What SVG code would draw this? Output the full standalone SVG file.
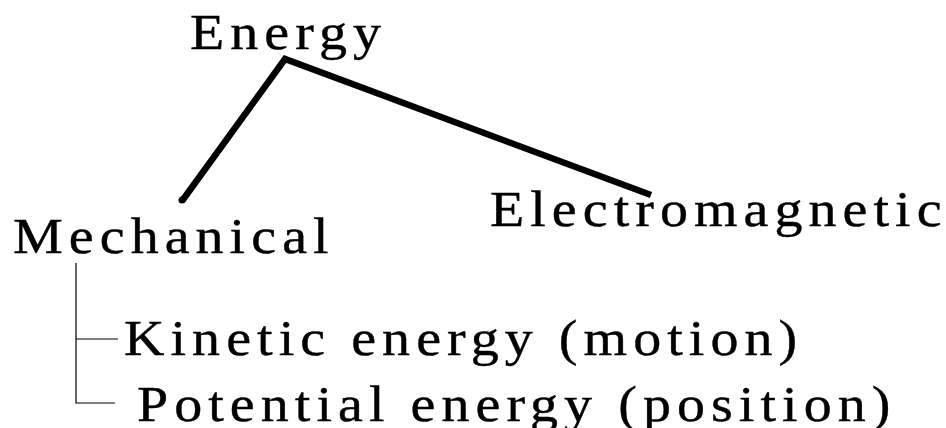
<svg xmlns="http://www.w3.org/2000/svg" width="946" height="428" viewBox="0 0 946 428">
<style>
.t{font-family:"Liberation Serif","Times New Roman",serif;font-size:50px;fill:#000;stroke:#000;stroke-width:0.4;letter-spacing:5.4px}
.thick{fill:none;stroke:#000;stroke-width:6.5;stroke-linejoin:miter}
.thin{fill:none;stroke:#000;stroke-width:1.2}
</style>
<rect width="946" height="428" fill="#fff"/>
<g id="connectors">
<polyline class="thick" points="182,201 285,59 651,195"/>
<circle cx="182" cy="200" r="3.5" fill="#000"/>
<polyline class="thin" points="76,263 76,403 115,403"/>
<line class="thin" x1="76" y1="339" x2="118" y2="339"/>
</g>
<g id="energy"><text class="t" transform="translate(190,49) scale(1.12,1)">Energy</text></g>
<g id="mechanical"><text class="t" transform="translate(13,253) scale(1.12,1)">Mechanical</text></g>
<g id="electromagnetic"><text class="t" transform="translate(490,226) scale(1.12,1)">Electromagnetic</text></g>
<g id="kinetic"><text class="t" transform="translate(124,355) scale(1.12,1)">Kinetic energy (motion)</text></g>
<g id="potential"><text class="t" transform="translate(137,421) scale(1.12,1)">Potential energy (position)</text></g>
</svg>
